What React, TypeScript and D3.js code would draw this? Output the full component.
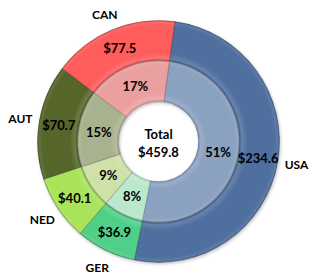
import React, { useEffect, useRef } from "react";
import * as d3 from "d3";

const categories = ["USA", "GER", "NED", "AUT", "CAN"];
const values = [234.6, 36.9, 40.1, 70.7, 77.5];
const outerColors = ["#4f6f9f", "#4fcf88", "#a8e35a", "#56652a", "#ff5b5b"];
const innerColors = ["#8ba1c0", "#b9e8cc", "#cfe0a8", "#a9b28e", "#eba0a0"];
const centerTitle = "Total";

const App = () => {
  const chartRef = useRef<HTMLDivElement>(null);

  useEffect(() => {
    if (!chartRef.current) return;
    d3.select(chartRef.current).select("svg").remove();

    const width = 309;
    const height = 280;
    const cx = 158.5;
    const cy = 141.5;
    const holeR = 40; // hole in the middle
    const midR = 81; // boundary between rings
    const outerR = 121;
    const font = "Lato, 'Open Sans', sans-serif";

    const svg = d3
      .select(chartRef.current)
      .append("svg")
      .attr("width", width)
      .attr("height", height)
      .style("position", "absolute")
      .style("left", "0px")
      .style("top", "0px");

    const defs = svg.append("defs");
    // soft bevel shading for each ring (coords are local to the translated group)
    const addRingGrad = (id: string, r0: number, r1: number) => {
      const g = defs
        .append("radialGradient")
        .attr("id", id)
        .attr("gradientUnits", "userSpaceOnUse")
        .attr("cx", 0)
        .attr("cy", 0)
        .attr("r", r1);
      const f = (r: number) => `${(r / r1) * 100}%`;
      g.append("stop").attr("offset", f(r0)).attr("stop-color", "#000").attr("stop-opacity", 0.12);
      g.append("stop").attr("offset", f(r0 + 2.5)).attr("stop-color", "#fff").attr("stop-opacity", 0.14);
      g.append("stop").attr("offset", f(r0 + 8)).attr("stop-color", "#fff").attr("stop-opacity", 0);
      g.append("stop").attr("offset", f(r1 - 5)).attr("stop-color", "#fff").attr("stop-opacity", 0);
      g.append("stop").attr("offset", f(r1 - 2)).attr("stop-color", "#fff").attr("stop-opacity", 0.08);
      g.append("stop").attr("offset", "100%").attr("stop-color", "#000").attr("stop-opacity", 0.22);
    };
    addRingGrad("innerShade", holeR, midR);
    addRingGrad("outerShade", midR, outerR);

    const shadow = defs
      .append("filter")
      .attr("id", "shadow")
      .attr("x", "-20%")
      .attr("y", "-20%")
      .attr("width", "140%")
      .attr("height", "140%");
    shadow
      .append("feDropShadow")
      .attr("dx", 1)
      .attr("dy", 1.5)
      .attr("stdDeviation", 1.5)
      .attr("flood-color", "#000")
      .attr("flood-opacity", 0.25);

    const g = svg.append("g").attr("transform", `translate(${cx}, ${cy})`);

    const total = d3.sum(values);
    const start = (7.8 * Math.PI) / 180;
    const pie = d3
      .pie<number>()
      .sort(null)
      .startAngle(start)
      .endAngle(start + 2 * Math.PI)
      .value((d) => d);
    const slices = pie(values);

    const outerArc = d3.arc<d3.PieArcDatum<number>>().innerRadius(midR).outerRadius(outerR);
    const innerArc = d3.arc<d3.PieArcDatum<number>>().innerRadius(holeR).outerRadius(midR);

    const rings = g.append("g").attr("filter", "url(#shadow)");

    rings
      .selectAll("path.outer")
      .data(slices)
      .enter()
      .append("path")
      .attr("class", "outer")
      .attr("d", outerArc)
      .attr("fill", (d, i) => outerColors[i]);
    rings
      .selectAll("path.outerShade")
      .data(slices)
      .enter()
      .append("path")
      .attr("class", "outerShade")
      .attr("d", outerArc)
      .attr("fill", "url(#outerShade)")
      .attr("stroke", "rgba(0,0,0,0.25)")
      .attr("stroke-width", 0.7);

    rings
      .selectAll("path.inner")
      .data(slices)
      .enter()
      .append("path")
      .attr("class", "inner")
      .attr("d", innerArc)
      .attr("fill", (d, i) => innerColors[i]);
    rings
      .selectAll("path.innerShade")
      .data(slices)
      .enter()
      .append("path")
      .attr("class", "innerShade")
      .attr("d", innerArc)
      .attr("fill", "url(#innerShade)")
      .attr("stroke", "rgba(0,0,0,0.2)")
      .attr("stroke-width", 0.7);

    const labelText = (sel: any) =>
      sel
        .attr("text-anchor", "middle")
        .attr("dominant-baseline", "central")
        .attr("font-family", font)
        .attr("font-weight", "bold")
        .attr("font-size", 13)
        .attr("fill", "#000");

    const outerMid = d3.arc<d3.PieArcDatum<number>>().innerRadius(101).outerRadius(101);
    const innerMid = d3.arc<d3.PieArcDatum<number>>().innerRadius(60.5).outerRadius(60.5);
    const nameArc = d3.arc<d3.PieArcDatum<number>>().innerRadius(140).outerRadius(140);

    g.selectAll("text.val")
      .data(slices)
      .enter()
      .append("text")
      .attr("class", "val")
      .attr("transform", (d) => `translate(${outerMid.centroid(d)})`)
      .call(labelText)
      .text((d) => `$${d.data.toFixed(1)}`);

    g.selectAll("text.pct")
      .data(slices)
      .enter()
      .append("text")
      .attr("class", "pct")
      .attr("transform", (d) => `translate(${innerMid.centroid(d)})`)
      .call(labelText)
      .text((d) => `${Math.round((d.data / total) * 100)}%`);

    g.selectAll("text.name")
      .data(slices)
      .enter()
      .append("text")
      .attr("class", "name")
      .attr("transform", (d) => {
        const [x, y] = nameArc.centroid(d);
        return `translate(${x}, ${Math.max(y, -cy + 14)})`;
      })
      .call(labelText)
      .attr("font-size", 12)
      .text((d, i) => categories[i]);

    // centre total
    g.append("text").attr("y", -8).call(labelText).text(centerTitle);
    g.append("text").attr("y", 10).call(labelText).text(`$${total.toFixed(1)}`);
  }, []);

  return <div ref={chartRef}></div>;
};

export default App;
